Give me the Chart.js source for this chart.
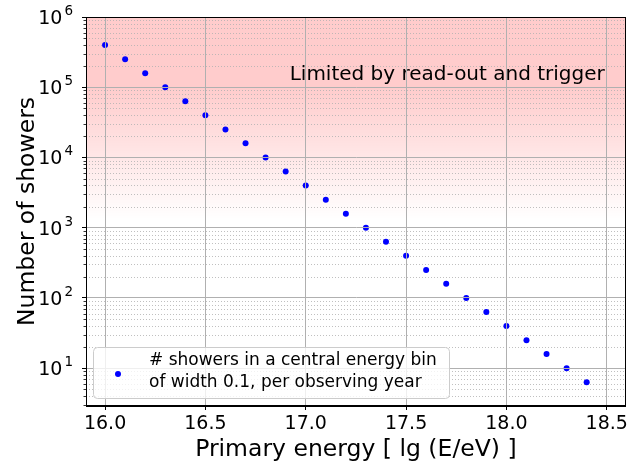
<!DOCTYPE html>
<html>
<head>
<meta charset="utf-8">
<script src="https://cdn.jsdelivr.net/npm/chart.js@4"></script>
<style>
html,body{margin:0;padding:0;background:#fff;}
#wrap{width:631px;height:462px;position:relative;}
</style>
</head>
<body>
<div id="wrap"><canvas id="c" width="631" height="462"></canvas></div>
<script>
// ---- data ----
const energies = [16.0,16.1,16.2,16.3,16.4,16.5,16.6,16.7,16.8,16.9,17.0,17.1,17.2,17.3,17.4,17.5,17.6,17.7,17.8,17.9,18.0,18.1,18.2,18.3,18.4];
const showers  = [400000,250000,158000,100000,63000,40000,25000,16000,10000,6300,4000,2500,1580,1000,630,400,250,160,100,63,40,25,16,10,6.3];
const xTicks = [16.0,16.5,17.0,17.5,18.0,18.5];
const xTickLabels = ['16.0','16.5','17.0','17.5','18.0','18.5'];
const yTicks = [10,100,1000,10000,100000,1000000];
const yTickBase = '10';
const yTickExponents = ['1','2','3','4','5','6'];
const legendLines = ['# showers in a central energy bin','of width 0.1, per observing year'];
const annotationText = 'Limited by read-out and trigger';
const annotationPos = {x:16.92, y:150000};
const limitedRegion = {solidFrom:1000000, solidTo:100000, fadeTo:1300};

const FONT = 'DejaVu Sans';

const decor = {
  id:'decor',
  beforeDatasetsDraw(chart){
    const {ctx, chartArea:a, scales:{x,y}} = chart;
    ctx.save();
    // shaded region
    const yS = y.getPixelForValue(limitedRegion.solidTo);
    const yF = y.getPixelForValue(limitedRegion.fadeTo);
    const yT = y.getPixelForValue(limitedRegion.solidFrom);
    const g = ctx.createLinearGradient(0, yS, 0, yF);
    g.addColorStop(0,'rgba(255,0,0,0.2)');
    g.addColorStop(1,'rgba(255,0,0,0)');
    ctx.fillStyle='rgba(255,0,0,0.2)';
    ctx.fillRect(a.left, yT, a.right-a.left, yS-yT);
    ctx.fillStyle=g;
    ctx.fillRect(a.left, yS, a.right-a.left, yF-yS);
    // minor grid (dotted) and minor ticks
    ctx.strokeStyle='#b0b0b0';
    ctx.lineWidth=0.8;
    ctx.setLineDash([1,2]);
    const mins=[];
    for(let n=0;n<6;n++){for(let k=2;k<10;k++){const v=k*Math.pow(10,n); if(v>=y.min && v<=y.max) mins.push(v);}}
    mins.forEach(v=>{
      const p=Math.round(y.getPixelForValue(v))+0.5;
      ctx.beginPath();ctx.moveTo(a.left,p);ctx.lineTo(a.right,p);ctx.stroke();
    });
    ctx.setLineDash([]);
    ctx.strokeStyle='#000';
    mins.forEach(v=>{
      const p=Math.round(y.getPixelForValue(v))+0.5;
      ctx.beginPath();ctx.moveTo(a.left-2.5,p);ctx.lineTo(a.left,p);ctx.stroke();
    });
    // annotation
    ctx.fillStyle='#000';
    ctx.font='20px "'+FONT+'"';
    ctx.textAlign='left';ctx.textBaseline='middle';
    ctx.fillText(annotationText, x.getPixelForValue(annotationPos.x), y.getPixelForValue(annotationPos.y));
    ctx.restore();
  },
  afterDraw(chart){
    const {ctx, chartArea:a, scales:{y}} = chart;
    ctx.save();
    // frame
    ctx.strokeStyle='#000';ctx.lineWidth=1;
    ctx.strokeRect(Math.round(a.left)+0.5, Math.round(a.top)+0.5, Math.round(a.right-a.left)-1, Math.round(a.bottom-a.top)-1);
    // y tick labels: 10 with superscript exponent
    ctx.fillStyle='#000';
    ctx.textBaseline='alphabetic';
    yTicks.forEach((v,i)=>{
      const py=y.getPixelForValue(v);
      const R=a.left-13;
      ctx.font='13.5px "'+FONT+'"';
      ctx.textAlign='right';
      const sw=ctx.measureText(yTickExponents[i]).width;
      ctx.fillText(yTickExponents[i], R, py-2);
      ctx.font='19px "'+FONT+'"';
      ctx.fillText(yTickBase, R-sw-2, py+7);
    });
    // legend
    const bx=a.left+7, bw=356, bh=51, by=a.bottom-8-bh;
    ctx.fillStyle='rgba(255,255,255,0.8)';
    ctx.strokeStyle='#cccccc';
    ctx.beginPath();
    if(ctx.roundRect) ctx.roundRect(bx+0.5,by+0.5,bw,bh,4); else ctx.rect(bx+0.5,by+0.5,bw,bh);
    ctx.fill();ctx.stroke();
    ctx.fillStyle='#0000ff';
    ctx.beginPath();ctx.arc(bx+25, by+27, 3, 0, Math.PI*2);ctx.fill();
    ctx.fillStyle='#000';
    ctx.font='17px "'+FONT+'"';
    ctx.textAlign='left';ctx.textBaseline='middle';
    ctx.fillText(legendLines[0], bx+56, by+14);
    ctx.fillText(legendLines[1], bx+56, by+36);
    ctx.restore();
  }
};

new Chart(document.getElementById('c'), {
  type:'scatter',
  data:{datasets:[{
    label:legendLines.join(' '),
    data:energies.map((e,i)=>({x:e,y:showers[i]})),
    backgroundColor:'#0000ff',
    borderColor:'#0000ff',
    borderWidth:0,
    pointRadius:3,
    pointHoverRadius:3
  }]},
  options:{
    responsive:false,
    animation:false,
    events:[],
    layout:{padding:{left:14,right:3,top:17,bottom:0}},
    plugins:{legend:{display:false},tooltip:{enabled:false}},
    scales:{
      x:{
        type:'linear', min:15.905, max:18.595,
        afterBuildTicks:s=>{s.ticks=xTicks.map(v=>({value:v}));},
        afterFit:s=>{s.height=56;},
        ticks:{callback:(v,i)=>xTickLabels[i], color:'#000', font:{family:FONT,size:19,lineHeight:1.2}, padding:3, maxRotation:0, autoSkip:false},
        grid:{color:'#b0b0b0', lineWidth:1, tickColor:'#000', tickLength:4, z:1},
        border:{color:'#000', width:1, z:1},
        title:{display:true, text:'Primary energy [ lg (E/eV) ]', color:'#000', font:{family:FONT,size:23.5,lineHeight:1}, padding:{top:0,bottom:0}}
      },
      y:{
        type:'logarithmic', min:2.9, max:1000000,
        afterBuildTicks:s=>{s.ticks=yTicks.map(v=>({value:v, major:true}));},
        afterFit:s=>{s.width=72;},
        ticks:{callback:()=>'', color:'#000', font:{family:FONT,size:19}, padding:2, autoSkip:false},
        grid:{color:'#b0b0b0', lineWidth:1, tickColor:'#000', tickLength:4, z:1},
        border:{color:'#000', width:1, z:1},
        title:{display:true, text:'Number of showers', color:'#000', font:{family:FONT,size:23.5,lineHeight:1.2}, padding:{top:0,bottom:0}}
      }
    }
  },
  plugins:[decor]
});
</script>
</body>
</html>
